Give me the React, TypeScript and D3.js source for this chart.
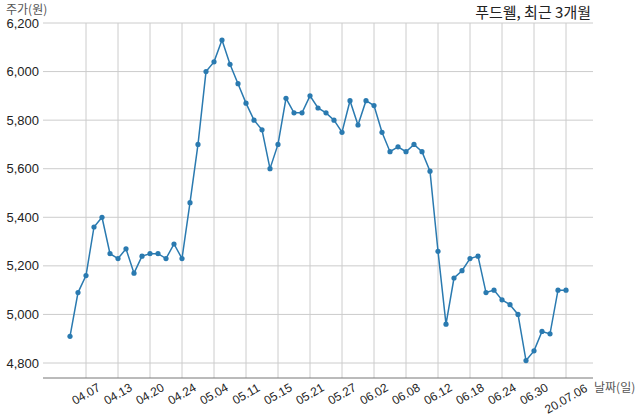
import React from 'react';
import * as d3 from 'd3';

// 거래일 (2020)
const dates = [
  '04.03', '04.06', '04.07', '04.08', '04.09', '04.10', '04.13', '04.14', '04.16', '04.17',
  '04.20', '04.21', '04.22', '04.23', '04.24', '04.27', '04.28', '04.29', '05.04', '05.06',
  '05.07', '05.08', '05.11', '05.12', '05.13', '05.14', '05.15', '05.18', '05.19', '05.20',
  '05.21', '05.22', '05.25', '05.26', '05.27', '05.28', '05.29', '06.01', '06.02', '06.03',
  '06.04', '06.05', '06.08', '06.09', '06.10', '06.11', '06.12', '06.15', '06.16', '06.17',
  '06.18', '06.19', '06.22', '06.23', '06.24', '06.25', '06.26', '06.29', '06.30', '07.01',
  '07.02', '07.03', '07.06',
];

// 종가 (원)
const prices = [
  4910, 5090, 5160, 5360, 5400, 5250, 5230, 5270, 5170, 5240,
  5250, 5250, 5230, 5290, 5230, 5460, 5700, 6000, 6040, 6130,
  6030, 5950, 5870, 5800, 5760, 5600, 5700, 5890, 5830, 5830,
  5900, 5850, 5830, 5800, 5750, 5880, 5780, 5880, 5860, 5750,
  5670, 5690, 5670, 5700, 5670, 5590, 5260, 4960, 5150, 5180,
  5230, 5240, 5090, 5100, 5060, 5040, 5000, 4810, 4850, 4930,
  4920, 5100, 5100,
];

const tickDates = [
  '04.07', '04.13', '04.20', '04.24', '05.04', '05.11', '05.15', '05.21',
  '05.27', '06.02', '06.08', '06.12', '06.18', '06.24', '06.30', '07.06',
];
const tickLabels = [
  '04.07', '04.13', '04.20', '04.24', '05.04', '05.11', '05.15', '05.21',
  '05.27', '06.02', '06.08', '06.12', '06.18', '06.24', '06.30', '20.07.06',
];
const yTicks = [4800, 5000, 5200, 5400, 5600, 5800, 6000, 6200];

const W = 640;
const H = 419;
const plot = { left: 43, right: 593, top: 23, bottom: 378 };
const numFont = '"Liberation Sans", Arial, "Noto Sans CJK KR", sans-serif';
const krFont = '"Noto Sans CJK KR", "Liberation Sans", sans-serif';

const App: React.FC = () => {
  const x = d3.scaleLinear().domain([0, dates.length - 1]).range([70, 566]);
  const y = d3.scaleLinear().domain([4800, 6200]).range([363, 23]);

  const line = d3.line<number>()
    .x((_, i) => x(i))
    .y(d => y(d));

  const fmt = d3.format(',');

  return (
    <div style={{ position: 'fixed', left: 0, top: 0 }}>
      <svg width={W} height={H} style={{ display: 'block', background: '#fff' }}>
        {/* 가로 격자 */}
        {yTicks.map(t => (
          <line key={'gy' + t} x1={plot.left} x2={plot.right} y1={y(t)} y2={y(t)}
            stroke="#cccccc" strokeWidth={1} />
        ))}
        {/* 세로 격자 */}
        {tickDates.map(d => {
          const xi = x(dates.indexOf(d));
          return (
            <line key={'gx' + d} x1={xi} x2={xi} y1={plot.top} y2={plot.bottom}
              stroke="#cccccc" strokeWidth={1} />
          );
        })}
        {/* 아래 축선 */}
        <line x1={plot.left} x2={plot.right} y1={plot.bottom} y2={plot.bottom}
          stroke="#777" strokeWidth={1} />

        {/* y 눈금 */}
        {yTicks.map(t => (
          <text key={'ty' + t} x={39} y={y(t)} dy="0.35em" textAnchor="end"
            fontFamily={numFont} fontSize={13} fill="#222">{fmt(t)}</text>
        ))}

        {/* x 눈금 */}
        {tickDates.map((d, k) => {
          const xi = x(dates.indexOf(d));
          const label = tickLabels[k];
          const w = label.length * 6.5;
          const cy = 381 + (w * 0.5 + 11 * 0.866) / 2;
          return (
            <text key={'tx' + d} x={xi} y={cy} dy="0.35em" textAnchor="middle"
              transform={`rotate(-30 ${xi} ${cy})`}
              fontFamily={numFont} fontSize={12} fill="#222">{label}</text>
          );
        })}

        {/* 주가 선 */}
        <path d={line(prices) || ''} fill="none" stroke="#2a7ab0" strokeWidth={1.5} />
        {prices.map((p, i) => (
          <circle key={'p' + i} cx={x(i)} cy={y(p)} r={2.6} fill="#2a7ab0" />
        ))}

        {/* 제목과 축 이름 */}
        <text x={591} y={18} textAnchor="end" fontFamily={krFont} fontSize={15} fill="#222">
          푸드웰, 최근 3개월
        </text>
        <text x={6} y={14} fontFamily={krFont} fontSize={12} fill="#555">주가(원)</text>
        <text x={594} y={392} fontFamily={krFont} fontSize={12} fill="#555">날짜(일)</text>
      </svg>
    </div>
  );
};

export default App;
